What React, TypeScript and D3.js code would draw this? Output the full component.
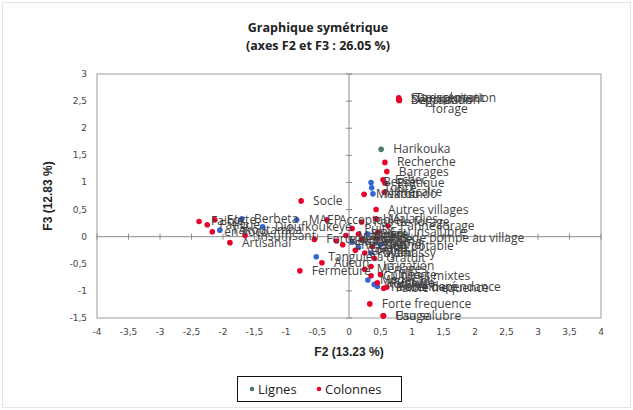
import React from 'react';
import * as d3 from 'd3';

// Colonnes (modalités) : [label, F2, F3]
const colonnes: [string, number, number][] = [
    ['Surexploitation', 0.79, 2.56],
    ['Dégradation', 0.79, 2.52],
    ['Séparation', 0.80, 2.52],
    ['Tarissement\nforage', 0.80, 2.51],
    ['Recherche', 0.57, 1.37],
    ['Barrages', 0.60, 1.20],
    ['Echec', 0.54, 1.05],
    ['Pratique', 0.57, 0.99],
    ['Précaire', 0.56, 0.82],
    ['Mékrou', 0.24, 0.78],
    ['Socle', -0.76, 0.66],
    ['Autres villages', 0.43, 0.50],
    ['Maladies', 0.43, 0.33],
    ['Acceptable', -0.35, 0.31],
    ['Pas de forage', 0.20, 0.27],
    ['Panne forage', 0.62, 0.20],
    ['Eau insalubre', 0.46, 0.08],
    ['Faible', -2.38, 0.28],
    ['Fatigue', -2.25, 0.22],
    ['Forte', -2.13, 0.31],
    ['en Toco', -2.17, 0.09],
    ['Artisanal', -1.89, -0.11],
    ['Insuffisant', -1.65, 0.02],
    ['Forte frequence', 0.33, -1.24],
    ['Faible frequence', 0.55, -0.95],
    ['Usage', 0.54, -1.46],
    ['Eau salubre', 0.55, -1.46],
    ['Fermeture', -0.78, -0.63],
    ['Aucun', -0.43, -0.48],
    ['Conflits', 0.10, -0.25],
    ['Non potable', 0.37, -0.18],
    ['Pas de pompe au village', 0.45, -0.03],
    ['Cultures mixtes', 0.35, -0.72],
    ['Ménages', 0.25, -0.60],
    ['Rupture', 0.45, -0.85],
    ['Forte dependance', 0.60, -0.93],
    ['Irrigation', 0.35, -0.55],
    ['Pompe', 0.20, -0.05],
    ['Entretien', -0.10, -0.15],
    ['Forte demande', -0.55, -0.05],
    ['Neutre', -0.20, -0.08],
    ['Puits', 0.05, 0.15],
    ['Rivière', 0.15, 0.05],
    ['Marigot', -0.05, 0.02],
    ['Payant', 0.25, -0.30],
    ['Gratuit', 0.40, -0.40],
    ['Collecte', 0.50, -0.70],
];

// Lignes (villages) : [label, F2, F3]
const lignes: [string, number, number][] = [
    ['Harikouka', 0.51, 1.61],
    ['Bessé', 0.35, 1.00],
    ['Tobré', 0.36, 0.90],
    ['Naoundo', 0.38, 0.79],
    ['Berbeta', -1.70, 0.33],
    ['MAEP', -0.83, 0.31],
    ['Dioufkoukeye', -1.37, 0.18],
    ['Takoutamba', -2.05, 0.12],
    ['Tanguiéta', -0.52, -0.37],
    ['Kotchari', 0.40, -0.88],
    ['Tandenbaré', 0.45, -0.92],
    ['Madécali', 0.30, -0.80],
    ['Guéné', 0.15, -0.20],
    ['Karimama', 0.05, -0.10],
    ['Mamassy', 0.35, -0.30],
    ['Birni', 0.30, 0.05],
    ['Kandi', 0.50, -0.15],
];

const xTicks = d3.range(-4, 4.01, 0.5);
const yTicks = d3.range(-1.5, 3.01, 0.5);

const W = 633, H = 410;
const plot = { left: 97, right: 601, top: 74, bottom: 318 };
const colLignes = '#3366d6';
const colColonnes = '#e8002a';
const fmt = (v: number) => String(Math.round(v * 10) / 10).replace('.', ',');

export default function App() {
    const x = d3.scaleLinear().domain([-4, 4]).range([plot.left, plot.right]);
    const y = d3.scaleLinear().domain([-1.5, 3]).range([plot.bottom, plot.top]);
    const labelFont = '"Open Sans", sans-serif';
    const axisFont = '"DejaVu Sans", sans-serif';
    const fs = 12;

    // data labels sit right of the marker; wrapped labels are centred on the first line
    const renderLabel = (label: string, px: number, py: number, key: string) => {
        const lines = label.split('\n');
        if (lines.length === 1) {
            return (
                <text key={key} x={px + 12} y={py + 4} fontFamily={labelFont} fontSize={fs} fill="#3f3f3f">{label}</text>
            );
        }
        const cx = px + 12 + lines[0].length * fs * 0.29;
        return (
            <text key={key} x={cx} y={py + 1} textAnchor="middle" fontFamily={labelFont} fontSize={fs} fill="#3f3f3f">
                {lines.map((l, i) => (
                    <tspan key={i} x={cx} dy={i === 0 ? 0 : 11}>{l}</tspan>
                ))}
            </text>
        );
    };

    return (
        <svg width={W} height={H} style={{ position: 'absolute', left: 0, top: 0, background: '#fff' }}>
            <rect x={2.5} y={2.5} width={W - 5} height={H - 5} fill="none" stroke="#e4e4e4" />
            <text x={318} y={32} textAnchor="middle" fontFamily={labelFont} fontWeight={700} fontSize={12.5} fill="#222">Graphique symétrique</text>
            <text x={318} y={50} textAnchor="middle" fontFamily={labelFont} fontWeight={700} fontSize={12.5} fill="#222">(axes F2 et F3 : 26.05 %)</text>

            <rect x={plot.left} y={plot.top} width={plot.right - plot.left} height={plot.bottom - plot.top} fill="none" stroke="#9a9a9a" />

            {/* zero axes with ticks */}
            <line x1={plot.left} x2={plot.right} y1={y(0)} y2={y(0)} stroke="#8c8c8c" />
            <line x1={x(0)} x2={x(0)} y1={plot.top} y2={plot.bottom} stroke="#8c8c8c" />
            {xTicks.map(t => (
                <line key={'xt' + t} x1={x(t)} x2={x(t)} y1={y(0) - 3} y2={y(0) + 3} stroke="#8c8c8c" />
            ))}
            {yTicks.map(t => (
                <line key={'yt' + t} x1={x(0) - 3} x2={x(0) + 3} y1={y(t)} y2={y(t)} stroke="#8c8c8c" />
            ))}

            {xTicks.map(t => (
                <text key={'xl' + t} x={x(t)} y={plot.bottom + 17} textAnchor="middle" fontFamily={axisFont} fontSize={9} fill="#444">{fmt(t)}</text>
            ))}
            {yTicks.map(t => (
                <text key={'yl' + t} x={plot.left - 10} y={y(t) + 3} textAnchor="end" fontFamily={axisFont} fontSize={9} fill="#444">{fmt(t)}</text>
            ))}

            <text x={x(0)} y={356} textAnchor="middle" fontFamily='"Liberation Sans", Arial, sans-serif' fontWeight={700} fontSize={12} fill="#222">F2 (13.23 %)</text>
            <text transform={`translate(52,${(plot.top + plot.bottom) / 2}) rotate(-90)`} textAnchor="middle" fontFamily='"Liberation Sans", Arial, sans-serif' fontWeight={700} fontSize={12} fill="#222">F3 (12.83 %)</text>

            {lignes.map(([l, a, b], i) => (
                <circle key={'lp' + i} cx={x(a)} cy={y(b)} r={2.8} fill={i === 0 ? '#4f7a66' : colLignes} />
            ))}
            {colonnes.map(([l, a, b], i) => (
                <circle key={'cp' + i} cx={x(a)} cy={y(b)} r={2.8} fill={colColonnes} />
            ))}
            {lignes.map(([l, a, b], i) => renderLabel(l, x(a), y(b), 'll' + i))}
            {colonnes.map(([l, a, b], i) => renderLabel(l, x(a), y(b), 'cl' + i))}

            {/* legend */}
            <rect x={237.5} y={376.5} width={164} height={25} fill="#fff" stroke="#111" />
            <circle cx={252} cy={389} r={2.3} fill="#4f7a66" />
            <text x={258} y={394} fontFamily={labelFont} fontSize={13} fill="#222">Lignes</text>
            <circle cx={319} cy={389} r={2.3} fill={colColonnes} />
            <text x={325} y={394} fontFamily={labelFont} fontSize={13} fill="#222">Colonnes</text>
        </svg>
    );
}
